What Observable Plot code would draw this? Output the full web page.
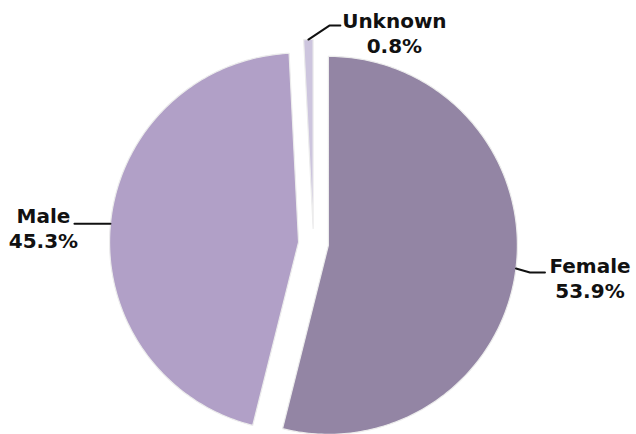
<!DOCTYPE html>
<html>
<head>
<meta charset="utf-8">
<script src="https://cdn.jsdelivr.net/npm/d3@7"></script>
<script src="https://cdn.jsdelivr.net/npm/@observablehq/plot@0.6"></script>
<style>
  html, body { margin: 0; padding: 0; background: #fff; }
  #chart svg { display: block; }
</style>
</head>
<body>
<div id="chart"></div>
<script>
// ---- data ----
const categories = ["Female", "Male", "Unknown"];
const shares = [53.9, 45.3, 0.8];
const shareLabels = ["53.9%", "45.3%", "0.8%"];

// ---- layout / style ----
const W = 636, H = 434;
const R = 189;            // pie radius in px
const CX = 313, CY = 243; // pie centre in px
const explode = 15 / R;   // explode distance in radius units
const colors = {Female: "#9385a4", Male: "#b1a0c7", Unknown: "#cdc5de"};
// leader-line / text offsets (px) relative to the slice mid-arc point
const labelLayout = {
  Female:  {elbow: [14, 4],  end: [29, 4],   text: [74, -13],  anchor: "middle"},
  Male:    {elbow: [-18, 0], end: [-36, 0],  text: [-67, -18], anchor: "middle"},
  Unknown: {elbow: [21, -14], end: [32, -14], text: [86, -29], anchor: "middle"}
};

// ---- geometry from d3.pie ----
const pie = d3.pie().sort(null).value(d => d.value)
  .startAngle(0).endAngle(2 * Math.PI);
const arcs = pie(categories.map((c, i) => ({name: c, value: shares[i], label: shareLabels[i]})));

const slicePts = [];
const leaderPts = [];
const textRows = [];
for (const a of arcs) {
  const mid = (a.startAngle + a.endAngle) / 2;
  const ox = explode * Math.sin(mid), oy = explode * Math.cos(mid);
  const n = Math.max(4, Math.ceil((a.endAngle - a.startAngle) / (Math.PI / 180)));
  slicePts.push({name: a.data.name, x: ox, y: oy});
  for (let k = 0; k <= n; k++) {
    const t = a.startAngle + (a.endAngle - a.startAngle) * k / n;
    slicePts.push({name: a.data.name, x: ox + Math.sin(t), y: oy + Math.cos(t)});
  }
  const sx = ox + Math.sin(mid), sy = oy + Math.cos(mid);
  const L = labelLayout[a.data.name];
  leaderPts.push({name: a.data.name, x: sx, y: sy});
  leaderPts.push({name: a.data.name, x: sx + L.elbow[0] / R, y: sy - L.elbow[1] / R});
  leaderPts.push({name: a.data.name, x: sx + L.end[0] / R, y: sy - L.end[1] / R});
  textRows.push({name: a.data.name, text: a.data.name + "\n" + a.data.label,
    x: sx + L.text[0] / R, y: sy - L.text[1] / R});
}

const chart = Plot.plot({
  width: W, height: H,
  margin: 0,
  x: {domain: [-CX / R, (W - CX) / R], axis: null},
  y: {domain: [-(H - CY) / R, CY / R], axis: null},
  color: {domain: categories, range: categories.map(c => colors[c])},
  style: {background: "#fff"},
  marks: [
    Plot.line(slicePts, {x: "x", y: "y", z: "name", fill: "name",
      stroke: "#ececec", strokeWidth: 1.2, curve: "linear-closed"}),
    Plot.line(leaderPts, {x: "x", y: "y", z: "name", stroke: "#111", strokeWidth: 2}),
    Plot.text(textRows, {x: "x", y: "y", text: "text", textAnchor: "middle",
      lineAnchor: "top", lineHeight: 1.25, fontSize: 20, fontWeight: "bold",
      fontFamily: "'DejaVu Sans', sans-serif", fill: "#111"})
  ]
});
document.getElementById("chart").appendChild(chart);
</script>
</body>
</html>
